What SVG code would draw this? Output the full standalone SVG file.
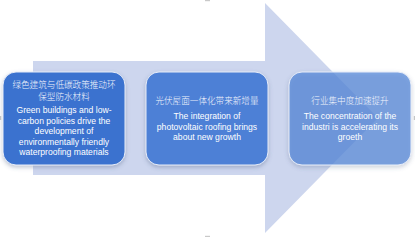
<svg xmlns="http://www.w3.org/2000/svg" width="415" height="237" viewBox="0 0 415 237">
<defs>
<filter id="sh" x="-20%" y="-20%" width="140%" height="150%">
<feDropShadow dx="0" dy="2" stdDeviation="2.2" flood-color="#4a5a80" flood-opacity="0.35"/>
</filter>
</defs>
<style>
.box{stroke:#e6ecf8;stroke-width:1;filter:url(#sh)}
.zh{font-family:"Noto Sans CJK SC",sans-serif;font-size:8.6px;font-weight:300;fill:#f2f5fc;text-anchor:middle}
.en{font-family:"Liberation Sans",Arial,sans-serif;font-size:8.6px;fill:#ffffff;text-anchor:middle}
.mk{fill:#c9c9c9}
</style>
<rect width="415" height="237" fill="#ffffff"/>
<rect class="mk" x="205" y="0" width="5" height="1.2"/>
<rect class="mk" x="205" y="235.8" width="5" height="1.2"/>
<rect class="mk" x="0" y="116" width="1.2" height="4"/>
<rect class="mk" x="413.8" y="116" width="1.2" height="4"/>
<g id="arrow">
<polygon points="33,61 265,61 265,3 378,118 265,233 265,175 33,175" fill="#cdd6ee"/>
</g>
<g id="node1">
<rect class="box" x="3" y="72" width="122" height="93" rx="13" fill="#3b72cf"/>
<text class="zh" x="64" y="88">绿色建筑与低碳政策推动环</text>
<text class="zh" x="64" y="100">保型防水材料</text>
<text class="en" x="64" y="113">Green buildings and low-</text>
<text class="en" x="64" y="123.5">carbon policies drive the</text>
<text class="en" x="64" y="134">development of</text>
<text class="en" x="64" y="144.5">environmentally friendly</text>
<text class="en" x="64" y="155">waterproofing materials</text>
</g>
<g id="node2">
<rect class="box" x="146" y="72" width="122" height="93" rx="13" fill="#4e80d6"/>
<text class="zh" x="207" y="104">光伏屋面一体化带来新增量</text>
<text class="en" x="207" y="119">The integration of</text>
<text class="en" x="207" y="129.5">photovoltaic roofing brings</text>
<text class="en" x="207" y="140">about new growth</text>
</g>
<g id="node3">
<rect class="box" x="289" y="72" width="122" height="93" rx="13" fill="#5588da" fill-opacity="0.72"/>
<text class="zh" x="350" y="104">行业集中度加速提升</text>
<text class="en" x="350" y="119">The concentration of the</text>
<text class="en" x="350" y="129.5">industri is accelerating its</text>
<text class="en" x="350" y="140">groeth</text>
</g>
</svg>
